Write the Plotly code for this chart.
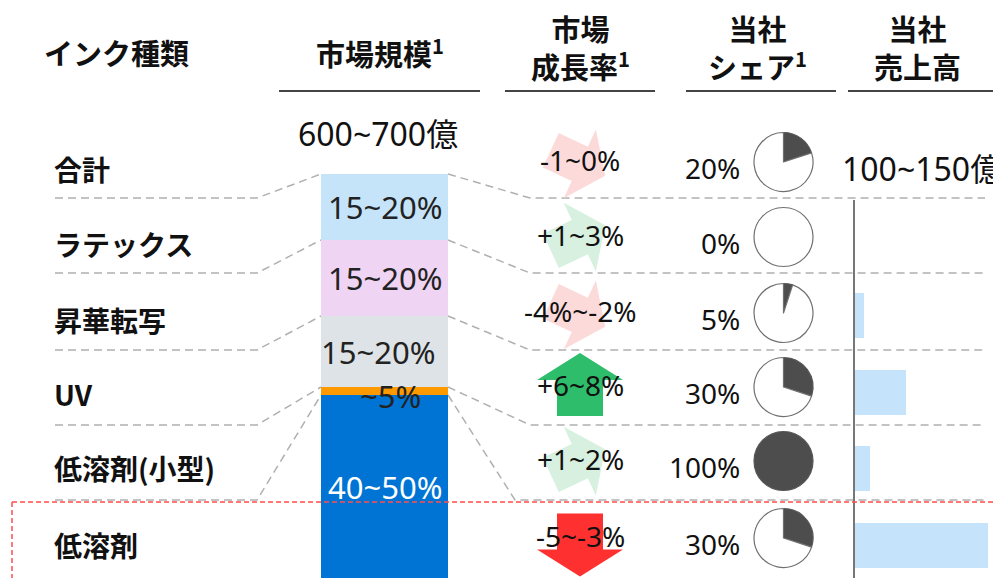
import math
import plotly.graph_objects as go

W, H = 1001, 578
OFF = 8  # ページ余白 (body margin) の補正

# ── データ ──────────────────────────────────────────────
INK_TYPES = ["合計", "ラテックス", "昇華転写", "UV", "低溶剤(小型)", "低溶剤"]

MARKET_TOTAL = "600~700億"
SEG_NAMES = ["ラテックス", "昇華転写", "UV", "低溶剤(小型)", "低溶剤"]
SEG_SHARE = [16.5, 19.0, 17.75, 2.0, 46.0]          # 読み取り推定 (%)
SEG_LABELS = ["15~20%", "15~20%", "15~20%", "~5%", "40~50%"]

GROWTH_LABELS = ["-1~0%", "+1~3%", "-4%~-2%", "+6~8%", "+1~2%", "-5~-3%"]
GROWTH_LO = [-1, 1, -4, 6, 1, -5]
GROWTH_HI = [0, 3, -2, 8, 2, -3]

SHARE = [20, 0, 5, 30, 100, 30]                      # 当社シェア (%)

SALES_TOTAL = "100~150億"
SALES = [0, 5, 29, 8.5, 75]                          # 億 (推定, ラテックス→低溶剤)

# ── スタイル / 配置 ─────────────────────────────────────
SEG_COLORS = ["#c5e4fa", "#f0d4f3", "#dde3e6", "#ff9900", "#0074d4"]
SEG_TEXT = ["#222", "#222", "#222", "#222", "white"]
SALES_COLOR = "#c5e4fc"
PIE_DARK = "#4d4d4d"
GRID = "#b0b0b0"
JP = "Noto Sans CJK JP"
NUM = "Noto Sans, Noto Sans CJK JP"

ROW_Y = [165, 240, 316, 390, 464, 541]
SEP_Y = [198, 273, 350, 425, 500]
BAR_X0, BAR_X1, BAR_TOP = 321, 448, 174
PX_PER_PCT = 4.0
PIE_X, PIE_R = 783.5, 29.5
AX_X = 855
SALES_PX = 133 / 75  # px / 億


def px_x(v):
    return (v - OFF) / W


def px_y(v):
    return 1 - (v - OFF) / H


fig = go.Figure()

# 区切り線 (点線)
seg_edges = [BAR_TOP]
for s in SEG_SHARE:
    seg_edges.append(seg_edges[-1] + s * PX_PER_PCT)
for i, sy in enumerate(SEP_Y):
    fig.add_trace(go.Scatter(
        x=[55, 257, BAR_X0], y=[sy, sy, seg_edges[i]], mode="lines",
        line=dict(color=GRID, width=1.5, dash="8px,5px"), hoverinfo="skip"))
    jx = 530 if i < 4 else 515
    fig.add_trace(go.Scatter(
        x=[BAR_X1, jx, 985], y=[seg_edges[i], sy, sy], mode="lines",
        line=dict(color=GRID, width=1.5, dash="8px,5px"), hoverinfo="skip"))


# 成長率の矢印
def arrow(cx, cy, ang, L, w, hw, hl):
    a = math.radians(ang)
    d = (math.cos(a), -math.sin(a))
    n = (math.sin(a), math.cos(a))
    loc = [(-L / 2, -w / 2), (L / 2 - hl, -w / 2), (L / 2 - hl, -hw / 2), (L / 2, 0),
           (L / 2 - hl, hw / 2), (L / 2 - hl, w / 2), (-L / 2, w / 2), (-L / 2, -w / 2)]
    xs = [cx + u * d[0] + v * n[0] for u, v in loc]
    ys = [cy + u * d[1] + v * n[1] for u, v in loc]
    return xs, ys


for i, (lo, hi) in enumerate(zip(GROWTH_LO, GROWTH_HI)):
    mid = (lo + hi) / 2
    strong = abs(mid) >= 4
    up = mid > 0
    if strong:
        ang = 90 if up else -90
        col = "#2ebd6b" if up else "#ff3030"
        cy = ROW_Y[i] + (-5.5 if up else 4)
        xs, ys = arrow(580, cy, ang, 63, 46, 86, 27)
    else:
        ang = 25 if up else -25
        col = "#d7f0df" if up else "#fcdada"
        xs, ys = arrow(578, ROW_Y[i] - 2, ang, 60, 38, 76, 28)
    fig.add_trace(go.Scatter(x=xs, y=ys, mode="lines", fill="toself", fillcolor=col,
                             line=dict(width=0), hoverinfo="skip"))

# 市場規模 積み上げ棒
for name, val, col in zip(SEG_NAMES, SEG_SHARE, SEG_COLORS):
    fig.add_trace(go.Bar(x=[0], y=[val], name=name, marker=dict(color=col, line=dict(width=0)),
                         width=1, xaxis="x2", yaxis="y2", hoverinfo="skip"))

# 当社売上高 横棒
fig.add_trace(go.Bar(x=SALES, y=list(range(len(SALES))), orientation="h",
                     marker=dict(color=SALES_COLOR, line=dict(width=0)), width=45 / 76.5,
                     xaxis="x3", yaxis="y3", hoverinfo="skip"))

# 当社シェア 円グラフ
for i, s in enumerate(SHARE):
    cy = ROW_Y[i] - 3
    vals, cols, lcols = [], [], []
    if s > 0:
        vals.append(s); cols.append(PIE_DARK); lcols.append("#555")
    if s < 100:
        vals.append(100 - s); cols.append("white"); lcols.append("#707070")
    fig.add_trace(go.Pie(
        values=vals, sort=False, direction="clockwise", rotation=0,
        marker=dict(colors=cols, line=dict(color=lcols, width=1.2)),
        textinfo="none", hoverinfo="skip",
        domain=dict(x=[px_x(PIE_X - PIE_R), px_x(PIE_X + PIE_R)],
                    y=[px_y(cy + PIE_R), px_y(cy - PIE_R)])))

ann = []


def txt(x, y, t, size, fam=NUM, bold=False, anchor="center", color="#111"):
    ann.append(dict(x=x, y=y, xref="x", yref="y", text=t, showarrow=False,
                    xanchor=anchor, yanchor="middle",
                    font=dict(family=fam, size=size, color=color,
                              weight="bold" if bold else "normal")))


# 見出し
HS = 29
txt(42, 52, "インク種類", HS, JP, True, "left")
txt(380, 52, "市場規模<sup>1</sup>", HS, JP, True)
txt(580, 47, "市場<br>成長率<sup>1</sup>", HS, JP, True)
txt(757, 47, "当社<br>シェア<sup>1</sup>", HS, JP, True)
txt(917, 47, "当社<br>売上高", HS, JP, True)

shapes = []
for x0, x1 in [(279, 480), (505, 655), (686, 836), (848, 1000)]:
    shapes.append(dict(type="line", xref="x", yref="y", x0=x0, x1=x1, y0=91, y1=91,
                       line=dict(color="#444", width=2)))

# 行ラベル・成長率・シェア
for i, name in enumerate(INK_TYPES):
    txt(52, ROW_Y[i] + 4, name, 28, JP, True, "left")
    txt(580, ROW_Y[i] - 5, GROWTH_LABELS[i], 28)
    txt(742, ROW_Y[i] + 3, f"{SHARE[i]}%", 28, anchor="right")

txt(378, 133, MARKET_TOTAL, 32)
txt(922, 168, SALES_TOTAL, 32)

# 棒の中のラベル
cum = 0
for i, (val, lab) in enumerate(zip(SEG_SHARE, SEG_LABELS)):
    mid = cum + val / 2
    cum += val
    ann.append(dict(x=0, y=mid, xref="x2", yref="y2", text=lab, showarrow=False,
                    xshift=-7 if i == 2 else (6 if i == 3 else 0),
                    yshift=-5 if i == 3 else 0,
                    font=dict(family=NUM, size=31, color=SEG_TEXT[i])))

# 赤い点線枠
red = dict(color="#ff4d4d", width=1.5, dash="5px,3px")
shapes.append(dict(type="line", xref="x", yref="y", x0=12, x1=1010, y0=502, y1=502,
                   line=red, layer="above"))
shapes.append(dict(type="line", xref="x", yref="y", x0=12, x1=12, y0=502, y1=590,
                   line=red, layer="above"))

hidden = dict(visible=False, fixedrange=True)
fig.update_layout(
    width=W, height=H, margin=dict(l=0, r=0, t=0, b=0),
    paper_bgcolor="white", plot_bgcolor="rgba(0,0,0,0)",
    showlegend=False, barmode="stack",
    xaxis=dict(domain=[0, 1], range=[OFF, W + OFF], **hidden),
    yaxis=dict(domain=[0, 1], range=[H + OFF, OFF], **hidden),
    xaxis2=dict(domain=[px_x(BAR_X0), px_x(BAR_X1)], range=[-0.5, 0.5], anchor="y2", **hidden),
    yaxis2=dict(domain=[0, px_y(BAR_TOP)], range=[(H + OFF - BAR_TOP) / PX_PER_PCT, 0],
                anchor="x2", **hidden),
    xaxis3=dict(domain=[px_x(AX_X), 1], range=[0, (W + OFF - AX_X) / SALES_PX],
                anchor="y3", **hidden),
    yaxis3=dict(domain=[0, px_y(200)], range=[(H + OFF - 239) / 76.5, (200 - 239) / 76.5],
                anchor="x3", visible=True, showline=True, linecolor="#777", linewidth=2,
                showticklabels=False, showgrid=False, zeroline=False, ticks="",
                fixedrange=True),
    annotations=ann, shapes=shapes,
)

fig.write_html("out.html")
